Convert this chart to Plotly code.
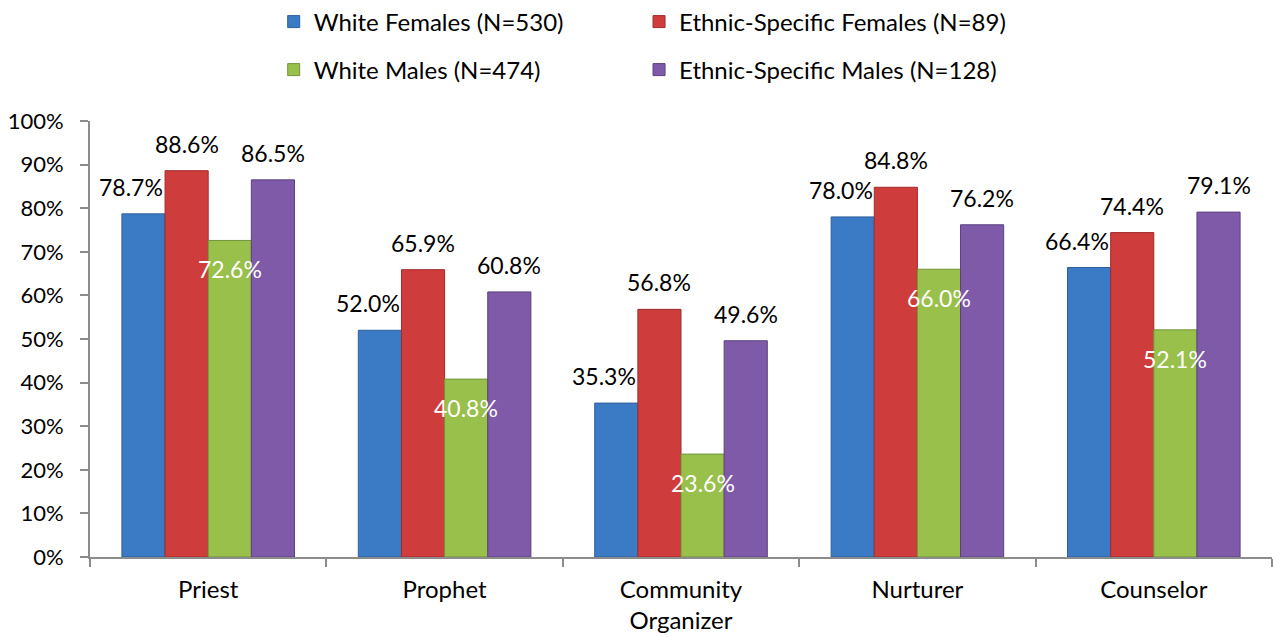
import plotly.graph_objects as go

# Survey results: share of respondents endorsing each pastoral role
categories = ["Priest", "Prophet", "Community<br>Organizer", "Nurturer", "Counselor"]

white_females = [78.7, 52.0, 35.3, 78.0, 66.4]
ethnic_females = [88.6, 65.9, 56.8, 84.8, 74.4]
white_males = [72.6, 40.8, 23.6, 66.0, 52.1]
ethnic_males = [86.5, 60.8, 49.6, 76.2, 79.1]

series_names = [
    "White Females (N=530)",
    "Ethnic-Specific Females (N=89)",
    "White Males (N=474)",
    "Ethnic-Specific Males (N=128)",
]
series_values = [white_females, ethnic_females, white_males, ethnic_males]
series_colors = ["#3b7bc6", "#cf3c3c", "#98c04a", "#7e5aa9"]
series_edges = ["#2d5f9c", "#a02c2c", "#73933a", "#5c4080"]

y_ticks = [0, 10, 20, 30, 40, 50, 60, 70, 80, 90, 100]
y_tick_text = [f"{v}%" for v in y_ticks]

FONT = "Lato"
BARGAP = 0.27

# one legend box per entry, laid out as a 2 x 2 grid above the plot
legend_ids = ["legend", "legend2", "legend3", "legend4"]
legend_x = [0.215, 0.502, 0.215, 0.502]
legend_y = [1 - 22 / 637, 1 - 22 / 637, 1 - 70 / 637, 1 - 70 / 637]

fig = go.Figure()
for name, vals, col, edge, lg in zip(series_names, series_values, series_colors,
                                     series_edges, legend_ids):
    fig.add_trace(go.Bar(
        x=categories, y=vals, name=name, legend=lg, showlegend=True,
        marker=dict(color=col, line=dict(color=edge, width=1)),
        hoverinfo="skip",
    ))

# value labels: dark text above the bar, white text inside for the White Males series
n = len(series_values)
bar_w = (1 - BARGAP) / n
annotations = []
for s, vals in enumerate(series_values):
    offset = (s - (n - 1) / 2) * bar_w
    inside = s == 2
    for i, v in enumerate(vals):
        annotations.append(dict(
            x=i + offset, y=v, xref="x", yref="y",
            text=f"{v:.1f}%", showarrow=False,
            yanchor="middle", xanchor="center",
            yshift=-29 if inside else 27,
            xshift=-12 if s == 0 else 0,
            font=dict(family=FONT, size=23, color="white" if inside else "black"),
        ))

legends = {}
for lg, lx, ly in zip(legend_ids, legend_x, legend_y):
    legends[lg] = dict(
        orientation="h", xref="container", yref="container",
        x=lx, y=ly, xanchor="left", yanchor="middle", visible=True,
        font=dict(family=FONT, size=24, color="black"),
        bgcolor="rgba(0,0,0,0)",
    )

fig.update_layout(
    width=1273, height=637,
    margin=dict(l=90, r=1, t=121, b=80),
    paper_bgcolor="white", plot_bgcolor="white",
    showlegend=True,
    barmode="group", bargap=BARGAP, bargroupgap=0,
    font=dict(family=FONT, size=22, color="black"),
    annotations=annotations,
    xaxis=dict(
        showline=True, linecolor="#8c8c8c", linewidth=2,
        ticks="outside", tickson="boundaries", ticklen=8, tickcolor="#8c8c8c",
        tickwidth=2, showgrid=False, ticklabelstandoff=10,
        tickfont=dict(family=FONT, size=24),
    ),
    yaxis=dict(
        range=[0, 100], tickmode="array", tickvals=y_ticks, ticktext=y_tick_text,
        showline=True, linecolor="#8c8c8c", linewidth=2,
        ticks="outside", ticklen=8, tickcolor="#8c8c8c", tickwidth=2,
        showgrid=False, zeroline=False, ticklabelstandoff=12,
        tickfont=dict(family=FONT, size=22),
    ),
    **legends,
)

fig.write_html("out.html")
